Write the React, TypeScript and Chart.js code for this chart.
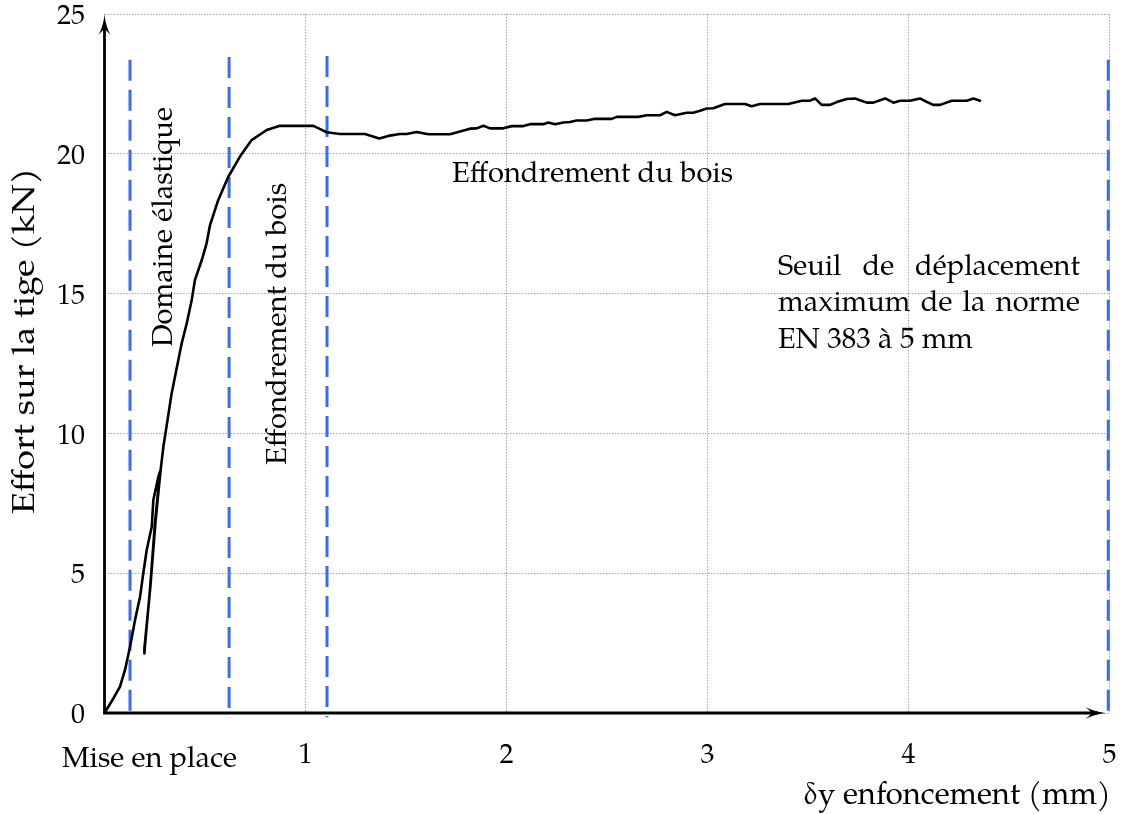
import React, { useEffect, useRef } from 'react';
import { Chart, registerables } from 'chart.js';

Chart.register(...registerables);

const FONT = '"TeX Gyre Pagella", "Liberation Serif", serif';

// Displacement (mm) and force (kN) of the measured curve
const dispX = [
  0, 0.044, 0.077, 0.102, 0.127, 0.152, 0.177, 0.193, 0.21, 0.235, 0.243, 0.268, 0.276,
  0.251, 0.226, 0.201, 0.197,
  0.2, 0.228, 0.254, 0.279,
  0.293, 0.334, 0.384, 0.409, 0.434, 0.45, 0.484, 0.508, 0.525, 0.566, 0.616, 0.674, 0.732, 0.807, 0.873,
  1.039, 1.089, 1.105, 1.172, 1.296, 1.367, 1.412, 1.47, 1.503, 1.553, 1.611, 1.719, 1.769, 1.818, 1.852,
  1.885, 1.918, 1.984, 2.026, 2.084, 2.117, 2.183, 2.208, 2.241, 2.283, 2.316, 2.349, 2.399, 2.44, 2.523,
  2.549, 2.656, 2.698, 2.764, 2.797, 2.838, 2.897, 2.929, 2.963, 2.996, 3.029, 3.087, 3.187, 3.22, 3.261,
  3.402, 3.469, 3.51, 3.535, 3.568, 3.61, 3.643, 3.693, 3.734, 3.792, 3.825, 3.884, 3.925, 3.958, 4.007,
  4.057, 4.09, 4.123, 4.157, 4.215, 4.29, 4.323, 4.356,
];
const forceY = [
  0, 0.52, 0.94, 1.54, 2.37, 3.33, 4.16, 5.0, 5.83, 6.66, 7.62, 8.45, 8.63,
  6.78, 4.4, 2.37, 2.13,
  2.3, 4.5, 6.85, 8.68,
  9.52, 11.43, 13.22, 13.93, 14.77, 15.49, 16.2, 16.8, 17.45, 18.35, 19.18, 19.9, 20.49, 20.85, 21.0,
  21.0, 20.83, 20.77, 20.71, 20.71, 20.55, 20.64, 20.71, 20.71, 20.78, 20.7, 20.7, 20.8, 20.9, 20.91,
  21.0, 20.91, 20.91, 20.99, 20.99, 21.06, 21.06, 21.12, 21.06, 21.12, 21.14, 21.19, 21.19, 21.25, 21.25,
  21.32, 21.32, 21.38, 21.38, 21.5, 21.38, 21.47, 21.47, 21.54, 21.62, 21.63, 21.78, 21.78, 21.7, 21.78,
  21.78, 21.9, 21.9, 21.98, 21.75, 21.75, 21.85, 21.96, 21.98, 21.83, 21.83, 21.98, 21.83, 21.9, 21.9,
  21.98, 21.86, 21.75, 21.75, 21.9, 21.9, 21.98, 21.9,
];

// Vertical dashed guide lines (phase limits and EN 383 threshold)
const guideX = [0.127, 0.62, 1.107, 4.994];
const guideTop = [23.36, 23.46, 23.5, 23.36];
const guideBottom = -0.15;

const xTicks = [0, 1, 2, 3, 4, 5];
const yTicks = [0, 5, 10, 15, 20, 25];
const xTickLabels = ['', '1', '2', '3', '4', '5'];
const zeroLabel = 'Mise en place';
const xTitle = 'δy enfoncement (mm)';
const yTitle = 'Effort sur la tige (kN)';
const elasticLabel = 'Domaine élastique';
const collapseLabel = 'Effondrement du bois';
const normLines = ['Seuil de déplacement', 'maximum de la norme', 'EN 383 à 5 mm'];

const BLUE = '#3b6cf0';

function drawFitted(
  ctx: CanvasRenderingContext2D,
  text: string,
  x: number,
  y: number,
  width: number,
  size: number,
  rotate = false,
) {
  ctx.save();
  ctx.font = `${size}px ${FONT}`;
  ctx.textAlign = 'left';
  ctx.textBaseline = 'alphabetic';
  ctx.fillStyle = '#000';
  const w = ctx.measureText(text).width;
  ctx.translate(x, y);
  if (rotate) ctx.rotate(-Math.PI / 2);
  ctx.scale(width / w, 1);
  ctx.fillText(text, 0, 0);
  ctx.restore();
}

function drawWords(
  ctx: CanvasRenderingContext2D,
  line: string,
  left: number,
  right: number | null,
  y: number,
  size: number,
  sx: number,
) {
  ctx.save();
  ctx.font = `${size}px ${FONT}`;
  ctx.textAlign = 'left';
  ctx.textBaseline = 'alphabetic';
  ctx.fillStyle = '#000';
  const words = line.split(' ');
  const widths = words.map((w) => ctx.measureText(w).width * sx);
  const total = widths.reduce((a, b) => a + b, 0);
  const natGap = ctx.measureText(' ').width * sx;
  const gap = right !== null && words.length > 1 ? (right - left - total) / (words.length - 1) : natGap;
  let x = left;
  words.forEach((w, i) => {
    ctx.save();
    ctx.translate(x, y);
    ctx.scale(sx, 1);
    ctx.fillText(w, 0, 0);
    ctx.restore();
    x += widths[i] + gap;
  });
  ctx.restore();
}

const axesPlugin = {
  id: 'axesArrows',
  beforeDatasetsDraw(chart: any) {
    const { ctx, scales } = chart;
    const xs = scales.x;
    const ys = scales.y;
    const x0 = xs.getPixelForValue(0);
    const y0 = ys.getPixelForValue(0);
    const yTip = ys.getPixelForValue(24.96);
    const xTip = xs.getPixelForValue(4.98);
    ctx.save();
    ctx.strokeStyle = '#000';
    ctx.fillStyle = '#000';
    ctx.lineWidth = 2.8;
    ctx.lineCap = 'butt';
    ctx.beginPath();
    ctx.moveTo(x0, y0 + 1.4);
    ctx.lineTo(x0, yTip + 8);
    ctx.moveTo(x0 - 1.4, y0);
    ctx.lineTo(xTip - 8, y0);
    ctx.stroke();
    const L = 20;
    const H = 6;
    ctx.beginPath();
    ctx.moveTo(x0, yTip);
    ctx.quadraticCurveTo(x0 + 1.5, yTip + L * 0.6, x0 + H, yTip + L);
    ctx.quadraticCurveTo(x0 + 1.5, yTip + L * 0.72, x0, yTip + L * 0.72);
    ctx.quadraticCurveTo(x0 - 1.5, yTip + L * 0.72, x0 - H, yTip + L);
    ctx.quadraticCurveTo(x0 - 1.5, yTip + L * 0.6, x0, yTip);
    ctx.fill();
    ctx.beginPath();
    ctx.moveTo(xTip, y0);
    ctx.quadraticCurveTo(xTip - L * 0.6, y0 + 1.5, xTip - L, y0 + H);
    ctx.quadraticCurveTo(xTip - L * 0.72, y0 + 1.5, xTip - L * 0.72, y0);
    ctx.quadraticCurveTo(xTip - L * 0.72, y0 - 1.5, xTip - L, y0 - H);
    ctx.quadraticCurveTo(xTip - L * 0.6, y0 - 1.5, xTip, y0);
    ctx.fill();
    ctx.restore();
  },
  afterDraw(chart: any) {
    const { ctx, scales } = chart;
    const xs = scales.x;
    const ys = scales.y;
    const px = (v: number) => xs.getPixelForValue(v);
    const py = (v: number) => ys.getPixelForValue(v);
    const x0 = px(0);
    const y0 = py(0);

    drawFitted(ctx, collapseLabel, px(1.729), py(18.99), px(3.127) - px(1.729), 29);
    drawFitted(ctx, elasticLabel, px(0.336), py(13.09), py(13.09) - py(21.67), 29, true);
    drawFitted(ctx, collapseLabel, px(0.903), py(8.87), py(8.87) - py(18.96), 29, true);

    ctx.save();
    ctx.font = `29px ${FONT}`;
    const natural = ctx.measureText(normLines[2]).width;
    ctx.restore();
    const left = px(3.351);
    const right = px(4.853);
    const sx = (px(4.321) - left) / natural;
    drawWords(ctx, normLines[0], left, right, py(15.65), 29, sx);
    drawWords(ctx, normLines[1], left, right, py(14.36), 29, sx);
    drawWords(ctx, normLines[2], left, null, py(13.07), 29, sx);

    drawFitted(ctx, zeroLabel, x0 - 42.5, y0 + 54, 175, 29);
    drawFitted(ctx, xTitle, px(5) + 1.5 - 308, y0 + 91, 308, 31);
    drawFitted(ctx, yTitle, x0 - 70.5, y0 - 199, 346, 31, true);
  },
};

export default function App() {
  const ref = useRef<HTMLCanvasElement | null>(null);

  useEffect(() => {
    if (!ref.current) return;
    let chart: Chart | null = null;
    let cancelled = false;
    const build = () => {
      if (cancelled || !ref.current) return;
      const curve = dispX.map((x, i) => ({ x, y: forceY[i] }));
      const guides = guideX.map((gx, i) => ({
        data: [
          { x: gx, y: guideTop[i] },
          { x: gx, y: guideBottom },
        ],
        borderColor: BLUE,
        borderWidth: 3,
        borderDash: [21, 9],
        pointRadius: 0,
        tension: 0,
        fill: false,
        clip: false as any,
      }));
      chart = new Chart(ref.current, {
        type: 'line',
        data: {
          datasets: [
            {
              data: curve,
              borderColor: '#000',
              borderWidth: 2.6,
              pointRadius: 0,
              tension: 0,
              fill: false,
              clip: false as any,
              borderJoinStyle: 'round',
              borderCapStyle: 'round',
            },
            ...guides,
          ] as any,
        },
        options: {
          responsive: false,
          animation: false,
          events: [],
          layout: { padding: { left: 0, top: 14, right: 13.5, bottom: 0 }, autoPadding: false } as any,
          plugins: {
            legend: { display: false },
            tooltip: { enabled: false },
            title: { display: false },
          },
          scales: {
            x: {
              type: 'linear',
              min: 0,
              max: 5,
              afterBuildTicks: (s: any) => {
                s.ticks = xTicks.map((v) => ({ value: v }));
              },
              afterFit: (s: any) => {
                s.height = 101;
                s.paddingLeft = 0;
                s.paddingRight = 0;
              },
              ticks: {
                autoSkip: false,
                maxRotation: 0,
                padding: 27,
                color: '#000',
                font: { family: FONT, size: 28 },
                callback: (v: any) => xTickLabels[xTicks.indexOf(Number(v))] ?? '',
              },
              grid: { color: '#a6a6a6', lineWidth: 1, drawTicks: false },
              border: { display: false, dash: [1.5, 1.5] },
            },
            y: {
              type: 'linear',
              min: 0,
              max: 25,
              afterBuildTicks: (s: any) => {
                s.ticks = yTicks.map((v) => ({ value: v }));
              },
              afterFit: (s: any) => {
                s.width = 104.5;
                s.paddingTop = 0;
                s.paddingBottom = 0;
              },
              ticks: {
                padding: 19.5,
                labelOffset: 4,
                color: '#000',
                font: { family: FONT, size: 28 },
                callback: (v: any) => String(v),
              },
              grid: { color: '#a6a6a6', lineWidth: 1, drawTicks: false },
              border: { display: false, dash: [1.5, 1.5] },
            },
          },
        } as any,
        plugins: [axesPlugin],
      });
    };
    const fonts: any = (document as any).fonts;
    if (fonts && fonts.load) {
      Promise.all([
        fonts.load('28px "TeX Gyre Pagella"', 'Effort δy é à 0123456789'),
        fonts.load('28px "Liberation Serif"', 'Effort δy é à 0123456789'),
      ])
        .catch(() => null)
        .then(build);
    } else {
      build();
    }
    return () => {
      cancelled = true;
      if (chart) chart.destroy();
    };
  }, []);

  return (
    <div style={{ position: 'absolute', left: 0, top: 0, width: 1123, height: 814, background: '#fff' }}>
      <canvas ref={ref} width={1123} height={814} style={{ display: 'block' }} />
    </div>
  );
}
